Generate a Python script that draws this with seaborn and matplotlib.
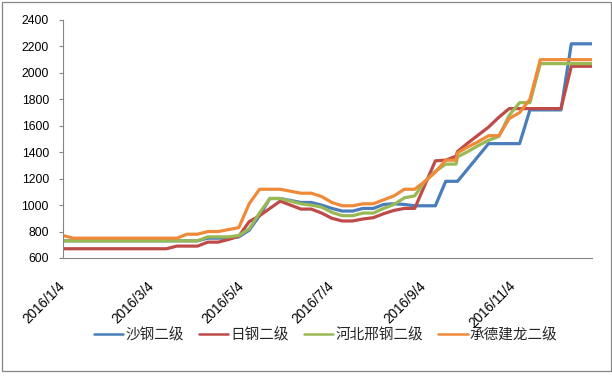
import matplotlib
matplotlib.use("Agg")
import matplotlib.pyplot as plt
from matplotlib.patches import Rectangle
import pandas as pd
import seaborn as sns

# ---- data ----
dates = pd.date_range("2016-01-04", "2016-09-26", freq="W-MON").append(
    pd.date_range("2016-09-27", "2016-12-27", freq="W-TUE"))

series_names = ["沙钢二级", "日钢二级", "河北邢钢二级", "承德建龙二级"]

shagang = [730]*14 + [750, 750, 750, 760, 810, 920, 1050, 1050, 1035, 1020, 1020,
           1000, 975, 955, 955, 975, 975, 1005, 1010, 1005, 995, 995, 995, 1180,
           1180, 1180, 1275, 1370, 1465, 1465, 1465, 1465, 1720, 1720, 1720, 1720,
           2220, 2220, 2220]
rigang = [670]*11 + [690, 690, 690, 720, 720, 740, 765, 875, 920, 975, 1030, 1000,
          970, 970, 940, 900, 880, 880, 895, 905, 935, 960, 975, 975, 1155, 1335,
          1340, 1370, 1405, 1470, 1530, 1590, 1665, 1730, 1730, 1730, 1730, 1730,
          1730, 2050, 2050, 2050]
xinggang = [730]*14 + [760, 760, 760, 770, 820, 940, 1050, 1050, 1030, 1010, 1000,
            985, 945, 920, 920, 940, 940, 975, 1005, 1055, 1070, 1180, 1255, 1310,
            1310, 1365, 1405, 1450, 1490, 1520, 1680, 1775, 1775, 2070, 2070, 2070,
            2070, 2070, 2070]
jianlong = [770] + [750]*11 + [780, 780, 800, 800, 815, 830, 1010, 1120, 1120, 1120,
            1105, 1090, 1090, 1065, 1020, 995, 995, 1010, 1010, 1040, 1070, 1120,
            1120, 1180, 1250, 1340, 1340, 1395, 1440, 1480, 1525, 1525, 1655, 1700,
            1800, 2100, 2100, 2100, 2100, 2100, 2100]

tick_labels = ["2016/1/4", "2016/3/4", "2016/5/4", "2016/7/4", "2016/9/4", "2016/11/4"]
y_ticks = [600, 800, 1000, 1200, 1400, 1600, 1800, 2000, 2200, 2400]

colors = ["#4A7EBB", "#BE4B48", "#98B954", "#EE8A3A"]

# ---- long-form table ----
frames = []
for name, vals in zip(series_names, [shagang, rigang, xinggang, jianlong]):
    frames.append(pd.DataFrame({"date": dates, "price": vals, "series": name}))
df = pd.concat(frames, ignore_index=True)

# ---- style ----
sns.set_style("white")
plt.rcParams["font.family"] = ["Liberation Sans", "Noto Sans CJK SC", "DejaVu Sans"]

fig = plt.figure(figsize=(6.12, 3.76), dpi=100)
ax = fig.add_axes([63/612, 1 - 258/376, (592 - 63)/612, (258 - 20)/376])

sns.lineplot(data=df, x="date", y="price", hue="series", hue_order=series_names,
             palette=colors, linewidth=2.3, ax=ax, legend=True)

ax.set_xlim(dates[0], dates[-1])
ax.set_ylim(600, 2400)
ax.set_yticks(y_ticks)
ax.set_yticklabels([str(v) for v in y_ticks], fontsize=8.8)

tick_dates = pd.to_datetime(tick_labels, format="%Y/%m/%d")
ax.set_xticks(tick_dates)
ax.set_xticklabels(tick_labels, fontsize=9.8, rotation=45, ha="right", va="center",
                   rotation_mode="anchor")
ax.set_xlabel("")
ax.set_ylabel("")
ax.grid(False)

for side in ["top", "right"]:
    ax.spines[side].set_visible(False)
for side in ["left", "bottom"]:
    ax.spines[side].set_color("#868686")
    ax.spines[side].set_linewidth(0.8)

ax.tick_params(axis="y", length=2.9, width=0.8, color="#868686", pad=7.2,
               labelcolor="black", left=True, direction="out")
ax.tick_params(axis="x", length=0, pad=18.5, labelcolor="black")

# legend
sns.move_legend(ax, "center", bbox_to_anchor=(0.532, 1 - 335/376),
                bbox_transform=fig.transFigure, ncol=4, frameon=False, title=None,
                handlelength=2.0, handletextpad=0.15, columnspacing=1.05,
                prop={"family": ["Noto Sans CJK SC", "DejaVu Sans"], "size": 10.5})
leg = ax.get_legend()
for h in leg.get_lines():
    h.set_linewidth(1.8)

# chart-area border
fig.add_artist(Rectangle((1.7/612, (376 - 370.7)/376), (610.5 - 1.7)/612,
                         (370.7 - 1.7)/376, transform=fig.transFigure, fill=False,
                         edgecolor="#868686", linewidth=0.9))

fig.savefig("out.png", dpi=100)
